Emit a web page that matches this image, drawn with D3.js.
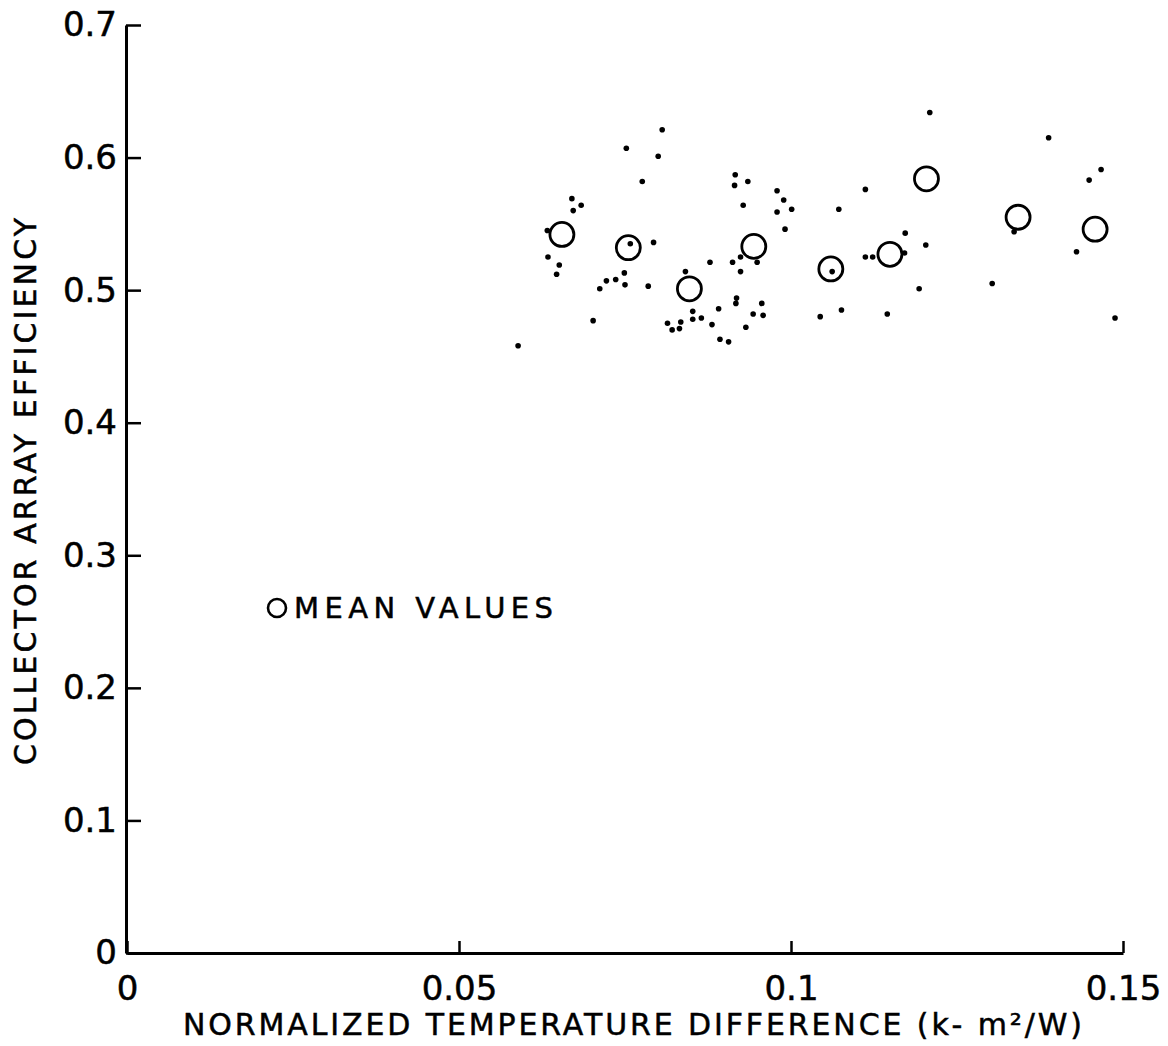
<!DOCTYPE html>
<html>
<head>
<meta charset="utf-8">
<script src="https://cdn.jsdelivr.net/npm/d3@7"></script>
<style>
  body { margin: 0; background: #fff; }
  text { font-family: "DejaVu Sans", sans-serif; fill: #000; stroke: #000; stroke-width: 0.5px; }
</style>
</head>
<body>
<div id="container"></div>
<script>
// tick values and labels
var xTicks = [0, 0.05, 0.1, 0.15];
var xTickLabels = ["0", "0.05", "0.1", "0.15"];
var yTicks = [0, 0.1, 0.2, 0.3, 0.4, 0.5, 0.6, 0.7];
var yTickLabels = ["0", "0.1", "0.2", "0.3", "0.4", "0.5", "0.6", "0.7"];

// mean values (open circles)
var meanX = [0.0655, 0.0755, 0.0847, 0.0944, 0.1060, 0.1149, 0.1204, 0.1342, 0.1458];
var meanY = [0.542, 0.532, 0.501, 0.533, 0.516, 0.527, 0.584, 0.555, 0.546];

// individual measurements (dots)
var ptX = [0.0806, 0.0752, 0.0800, 0.0776, 0.0670, 0.0684, 0.0672, 0.0633, 0.0634, 0.0651,
  0.0647, 0.0758, 0.0793, 0.0749, 0.0736, 0.0722, 0.0712, 0.0750, 0.0785, 0.0702,
  0.0589, 0.0841, 0.0878, 0.0852, 0.0852, 0.0865, 0.0814, 0.0821, 0.0834, 0.0832,
  0.0881, 0.0891, 0.0893, 0.0906, 0.0918, 0.0917, 0.0932, 0.0943, 0.0956, 0.0958,
  0.0916, 0.0915, 0.0935, 0.0928, 0.0979, 0.0989, 0.1001, 0.0979, 0.0991, 0.0924,
  0.0949, 0.0912, 0.0924, 0.1209, 0.1388, 0.1112, 0.1072, 0.1467, 0.1449, 0.1336,
  0.1430, 0.1172, 0.1203, 0.1171, 0.1112, 0.1123, 0.1062, 0.1193, 0.1303, 0.1044,
  0.1076, 0.1145, 0.1488];
var ptY = [0.621, 0.607, 0.601, 0.582, 0.569, 0.564, 0.560, 0.545, 0.525, 0.519,
  0.512, 0.535, 0.536, 0.513, 0.508, 0.507, 0.501, 0.504, 0.503, 0.477,
  0.458, 0.514, 0.521, 0.484, 0.478, 0.479, 0.475, 0.470, 0.476, 0.471,
  0.474, 0.486, 0.463, 0.461, 0.494, 0.490, 0.472, 0.482, 0.490, 0.481,
  0.587, 0.579, 0.582, 0.564, 0.575, 0.568, 0.561, 0.559, 0.546, 0.525,
  0.521, 0.521, 0.514, 0.634, 0.615, 0.576, 0.561, 0.591, 0.583, 0.544,
  0.529, 0.543, 0.534, 0.528, 0.525, 0.525, 0.514, 0.501, 0.505, 0.480,
  0.485, 0.482, 0.479];

var W = 1168, H = 1046;

var svg = d3.select("#container")
  .append("svg")
  .attr("width", W)
  .attr("height", H);

svg.append("rect").attr("width", W).attr("height", H).attr("fill", "#fff");

var xScale = d3.scaleLinear().domain([0, 0.15]).range([127, 1123]);
var yScale = d3.scaleLinear().domain([0, 0.7]).range([953, 25]);

// x axis (ticks point up into the plot)
var xAxis = d3.axisBottom(xScale)
  .tickValues(xTicks)
  .tickFormat((d, i) => xTickLabels[i])
  .tickSize(-12)
  .tickSizeOuter(0)
  .tickPadding(23);

svg.append("g")
  .attr("id", "x-axis")
  .attr("transform", "translate(0," + yScale(0) + ")")
  .call(xAxis);

// y axis (ticks point right into the plot)
var yAxis = d3.axisLeft(yScale)
  .tickValues(yTicks)
  .tickFormat((d, i) => yTickLabels[i])
  .tickSize(-15)
  .tickSizeOuter(0)
  .tickPadding(9);

svg.append("g")
  .attr("id", "y-axis")
  .attr("transform", "translate(" + (xScale(0) - 1) + ",0)")
  .call(yAxis);

svg.selectAll(".domain").attr("stroke", "#000").attr("stroke-width", 3);
svg.selectAll(".tick line").attr("stroke", "#000").attr("stroke-width", 2.5);
svg.selectAll(".tick text")
  .attr("font-size", 34)
  .attr("font-family", "DejaVu Sans, sans-serif")
  .attr("fill", "#000");

// axis titles
svg.append("text")
  .attr("x", 183)
  .attr("y", 1035)
  .attr("font-size", 30)
  .attr("textLength", 899)
  .attr("lengthAdjust", "spacing")
  .text("NORMALIZED  TEMPERATURE  DIFFERENCE  (k- m²/W)");

svg.append("text")
  .attr("transform", "translate(36,765) rotate(-90)")
  .attr("font-size", 30)
  .attr("textLength", 547)
  .attr("lengthAdjust", "spacing")
  .text("COLLECTOR ARRAY EFFICIENCY");

// measurement dots
svg.append("g")
  .selectAll("circle")
  .data(ptX)
  .enter()
  .append("circle")
  .attr("cx", (d) => xScale(d))
  .attr("cy", (d, i) => yScale(ptY[i]))
  .attr("r", 2.8)
  .attr("fill", "#000");

// mean value circles
svg.append("g")
  .selectAll("circle")
  .data(meanX)
  .enter()
  .append("circle")
  .attr("cx", (d) => xScale(d))
  .attr("cy", (d, i) => yScale(meanY[i]))
  .attr("r", 12)
  .attr("fill", "none")
  .attr("stroke", "#000")
  .attr("stroke-width", 2.8);

// legend
svg.append("circle")
  .attr("cx", 277)
  .attr("cy", 608)
  .attr("r", 9)
  .attr("fill", "none")
  .attr("stroke", "#000")
  .attr("stroke-width", 2.6);

svg.append("text")
  .attr("x", 294)
  .attr("y", 618)
  .attr("font-size", 29)
  .attr("textLength", 259)
  .attr("lengthAdjust", "spacing")
  .text("MEAN  VALUES");
</script>
</body>
</html>
